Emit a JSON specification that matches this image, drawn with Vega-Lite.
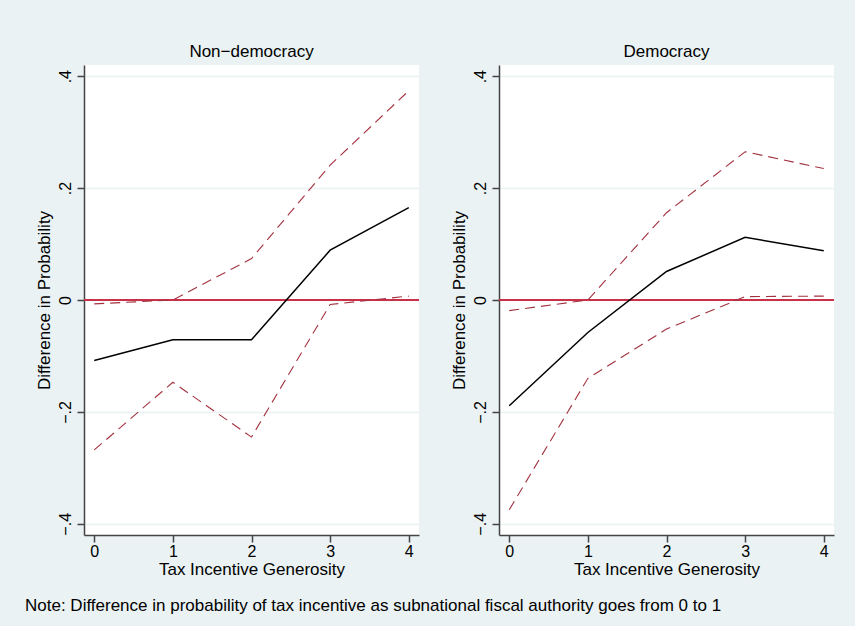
{
  "$schema": "https://vega.github.io/schema/vega-lite/v6.json",
  "background": "#eaf2f3",
  "padding": {"left": 25, "top": 43, "right": 20, "bottom": 12},
  "datasets": {
    "d": [
      {"panel": "Non−democracy", "x": 0, "series": "est", "value": -0.108},
      {"panel": "Non−democracy", "x": 1, "series": "est", "value": -0.071},
      {"panel": "Non−democracy", "x": 2, "series": "est", "value": -0.071},
      {"panel": "Non−democracy", "x": 3, "series": "est", "value": 0.089},
      {"panel": "Non−democracy", "x": 4, "series": "est", "value": 0.165},
      {"panel": "Non−democracy", "x": 0, "series": "hi", "value": -0.007},
      {"panel": "Non−democracy", "x": 1, "series": "hi", "value": 0.0},
      {"panel": "Non−democracy", "x": 2, "series": "hi", "value": 0.074},
      {"panel": "Non−democracy", "x": 3, "series": "hi", "value": 0.241},
      {"panel": "Non−democracy", "x": 4, "series": "hi", "value": 0.374},
      {"panel": "Non−democracy", "x": 0, "series": "lo", "value": -0.268},
      {"panel": "Non−democracy", "x": 1, "series": "lo", "value": -0.147},
      {"panel": "Non−democracy", "x": 2, "series": "lo", "value": -0.245},
      {"panel": "Non−democracy", "x": 3, "series": "lo", "value": -0.008},
      {"panel": "Non−democracy", "x": 4, "series": "lo", "value": 0.007},
      {"panel": "Democracy", "x": 0, "series": "est", "value": -0.189},
      {"panel": "Democracy", "x": 1, "series": "est", "value": -0.058},
      {"panel": "Democracy", "x": 2, "series": "est", "value": 0.051},
      {"panel": "Democracy", "x": 3, "series": "est", "value": 0.112},
      {"panel": "Democracy", "x": 4, "series": "est", "value": 0.088},
      {"panel": "Democracy", "x": 0, "series": "hi", "value": -0.019},
      {"panel": "Democracy", "x": 1, "series": "hi", "value": 0.0},
      {"panel": "Democracy", "x": 2, "series": "hi", "value": 0.156},
      {"panel": "Democracy", "x": 3, "series": "hi", "value": 0.265},
      {"panel": "Democracy", "x": 4, "series": "hi", "value": 0.235},
      {"panel": "Democracy", "x": 0, "series": "lo", "value": -0.375},
      {"panel": "Democracy", "x": 1, "series": "lo", "value": -0.140},
      {"panel": "Democracy", "x": 2, "series": "lo", "value": -0.052},
      {"panel": "Democracy", "x": 3, "series": "lo", "value": 0.006},
      {"panel": "Democracy", "x": 4, "series": "lo", "value": 0.007}
    ]
  },
  "data": {"name": "d"},
  "title": {
    "text": "Note: Difference in probability of tax incentive as subnational fiscal authority goes from 0 to 1",
    "orient": "bottom",
    "anchor": "start",
    "frame": "bounds",
    "dx": -10,
    "offset": 21,
    "fontSize": 17,
    "fontWeight": "normal",
    "font": "Liberation Sans",
    "color": "#000000"
  },
  "facet": {
    "column": {
      "field": "panel",
      "sort": ["Non−democracy", "Democracy"],
      "header": {
        "title": null,
        "labelFontSize": 17,
        "labelFont": "Liberation Sans",
        "labelColor": "#000000",
        "labelPadding": 4
      }
    }
  },
  "spacing": 30,
  "resolve": {"axis": {"y": "independent", "x": "independent"}},
  "spec": {
    "width": 335,
    "height": 470,
    "encoding": {
      "x": {
        "field": "x",
        "type": "quantitative",
        "scale": {"domain": [-0.13, 4.13], "nice": false, "zero": false},
        "axis": {"title": "Tax Incentive Generosity", "values": [0, 1, 2, 3, 4], "format": "d", "grid": false, "labelPadding": 1, "titlePadding": 2}
      },
      "y": {
        "field": "value",
        "type": "quantitative",
        "scale": {"domain": [-0.42, 0.42], "nice": false, "zero": false},
        "axis": {
          "title": "Difference in Probability",
          "values": [-0.4, -0.2, 0, 0.2, 0.4],
          "labelExpr": "datum.value == 0 ? '0' : replace(format(datum.value, '.1f'), '0.', '.')",
          "labelAngle": 270,
          "labelAlign": "center",
          "labelBaseline": "bottom",
          "labelPadding": 4,
          "titlePadding": 4,
          "grid": true,
          "gridColor": "#eaf2f3",
          "gridWidth": 1.5
        }
      }
    },
    "layer": [
      {
        "mark": {"type": "rule", "color": "#c8324a", "strokeWidth": 1.3},
        "encoding": {"y": {"datum": 0}, "x": null}
      },
      {
        "transform": [{"filter": "datum.series == 'est'"}],
        "mark": {"type": "line", "color": "#000000", "strokeWidth": 1.5}
      },
      {
        "transform": [{"filter": "datum.series == 'hi'"}],
        "mark": {"type": "line", "color": "#a3323f", "strokeWidth": 1.1, "strokeDash": [10, 6]}
      },
      {
        "transform": [{"filter": "datum.series == 'lo'"}],
        "mark": {"type": "line", "color": "#a3323f", "strokeWidth": 1.1, "strokeDash": [10, 6]}
      }
    ]
  },
  "config": {
    "font": "Liberation Sans",
    "view": {"fill": "#ffffff", "stroke": null},
    "axis": {
      "labelFont": "Liberation Sans",
      "titleFont": "Liberation Sans",
      "labelFontSize": 16,
      "titleFontSize": 17,
      "titleFontWeight": "normal",
      "labelColor": "#000000",
      "titleColor": "#000000",
      "domainColor": "#444444",
      "domainWidth": 1.5,
      "tickColor": "#444444",
      "tickWidth": 1.5,
      "tickSize": 7
    }
  }
}
